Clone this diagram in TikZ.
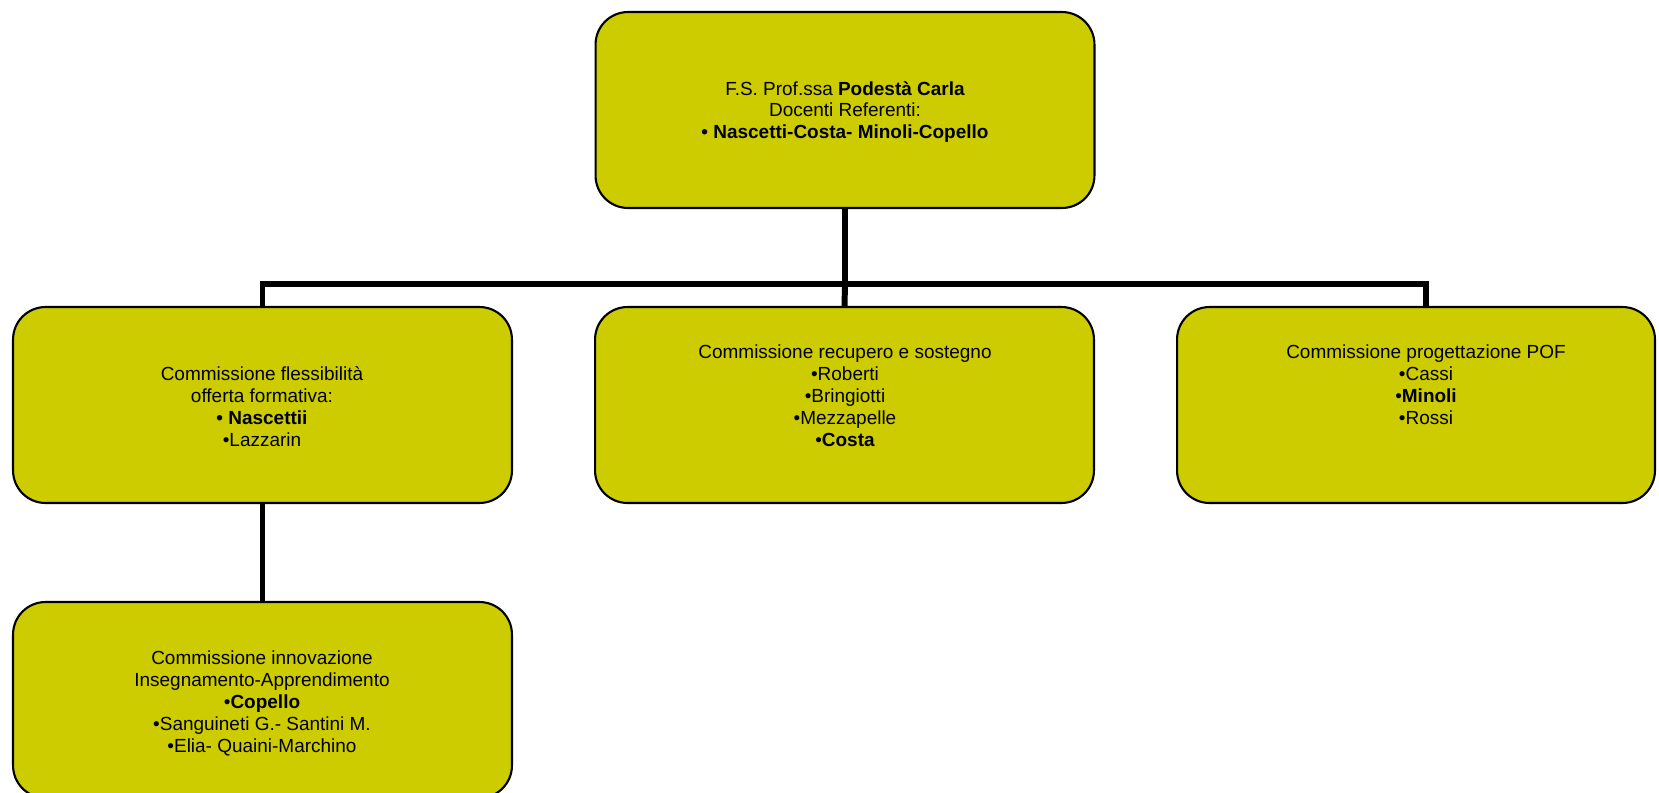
\documentclass[tikz,border=0pt]{standalone}
\usepackage{fontspec}
\setmainfont{Liberation Sans}
\definecolor{boxfill}{HTML}{CCCC00}

\begin{document}
\begin{tikzpicture}[x=0.02cm, y=-0.02cm,
    unit/.style={draw=black, line width=1.2pt, fill=boxfill, rounded corners=0.65cm,
                 minimum width=9.98cm, minimum height=3.92cm, inner sep=0pt},
    txt/.style={align=center, inner sep=0pt, font=\fontsize{10.8pt}{12.5pt}\selectfont},
    link/.style={line width=3.4pt, line join=miter}]
\clip (0,0) rectangle (1659,792);

% the boxes
\node[unit] (fs)   at (845,110) {};
\node[unit] (flex) at (262.5,405) {};
\node[unit] (rec)  at (844.5,405) {};
\node[unit, minimum width=9.56cm] (pof) at (1416,405) {};
\node[unit] (inno) at (262.5,700) {};

% connectors
\coordinate (hub) at (845,284);
\draw[link] (fs.south) -- (hub);
\draw[link] (flex.north) |- (hub) -| ([xshift=0.2cm]pof.north);
\draw[link] (hub) -- (rec.north);
\draw[link] (flex.south) -- (inno.north);

% texts
\node[txt] (fstxt) at (845,112) {F.S. Prof.ssa \textbf{Podestà Carla}\\ Docenti Referenti:\\ \textbf{• Nascetti-Costa- Minoli-Copello}};
\node[txt] (flextxt) at (262,407) {Commissione flessibilità\\ offerta formativa:\\ \textbf{• Nascettii}\\ •Lazzarin};
\node[txt] (rectxt) at (845,396) {Commissione recupero e sostegno\\ •Roberti\\ •Bringiotti\\ •Mezzapelle\\ •\textbf{Costa}};
\node[txt] (poftxt) at (1426,385) {Commissione progettazione POF\\ •Cassi\\ •\textbf{Minoli}\\ •Rossi};
\node[txt] (innotxt) at (262,703) {Commissione innovazione\\ Insegnamento-Apprendimento\\ •\textbf{Copello}\\ •Sanguineti G.- Santini M.\\ •Elia- Quaini-Marchino};

\end{tikzpicture}
\end{document}
